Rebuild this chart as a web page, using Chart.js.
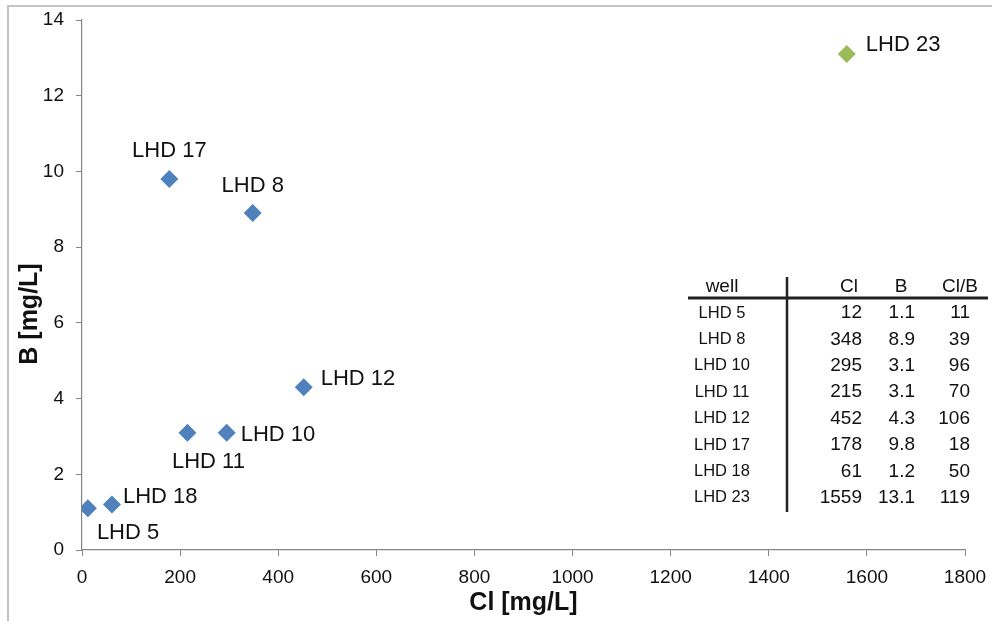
<!DOCTYPE html>
<html>
<head>
<meta charset="utf-8">
<script src="https://cdn.jsdelivr.net/npm/chart.js@4.4.0/dist/chart.umd.min.js"></script>
<style>
  html, body { margin: 0; padding: 0; background: #fff; }
  #wrap { width: 992px; height: 621px; position: relative; }
</style>
</head>
<body>
<div id="wrap"><canvas id="c" width="992" height="621"></canvas></div>
<script>
// ---- data ----
const wells = ['LHD 5', 'LHD 8', 'LHD 10', 'LHD 11', 'LHD 12', 'LHD 17', 'LHD 18', 'LHD 23'];
const clValues = [12, 348, 295, 215, 452, 178, 61, 1559];
const bValues = [1.1, 8.9, 3.1, 3.1, 4.3, 9.8, 1.2, 13.1];
const clbValues = [11, 39, 96, 70, 106, 18, 50, 119];
const tableHeaders = ['well', 'Cl', 'B', 'Cl/B'];
const xTitle = 'Cl [mg/L]';
const yTitle = 'B [mg/L]';

// ---- style ----
const FONT = "'Liberation Sans', Arial, Helvetica, sans-serif";
const BLUE = '#4F81BD';
const GREEN = '#9BBB59';
const AXIS = '#868686';
const TEXT = '#111';
// label offsets relative to each point (px) and alignment
const labelPlacement = {
  'LHD 5':  { dx: 9,  dy: 25, align: 'left' },
  'LHD 8':  { dx: 0,  dy: -27, align: 'center' },
  'LHD 10': { dx: 14, dy: 2,  align: 'left' },
  'LHD 11': { dx: 21, dy: 29, align: 'center' },
  'LHD 12': { dx: 17, dy: -8, align: 'left' },
  'LHD 17': { dx: 0,  dy: -28, align: 'center' },
  'LHD 18': { dx: 11, dy: -8, align: 'left' },
  'LHD 23': { dx: 19, dy: -9, align: 'left' }
};

const points = wells.map((w, i) => ({ x: clValues[i], y: bValues[i], name: w }));

const framePlugin = {
  id: 'frame',
  beforeDraw(chart) {
    const ctx = chart.ctx;
    ctx.save();
    ctx.strokeStyle = '#c4c4c4';
    ctx.lineWidth = 2;
    ctx.beginPath();
    ctx.moveTo(8, 621);
    ctx.lineTo(8, 6);
    ctx.lineTo(992, 6);
    ctx.stroke();
    ctx.restore();
  }
};

const labelsPlugin = {
  id: 'pointLabels',
  afterDatasetsDraw(chart) {
    const ctx = chart.ctx;
    const meta = chart.getDatasetMeta(0);
    ctx.save();
    ctx.font = '22px ' + FONT;
    ctx.fillStyle = TEXT;
    ctx.textBaseline = 'middle';
    meta.data.forEach((el, i) => {
      const p = labelPlacement[wells[i]];
      ctx.textAlign = p.align;
      ctx.fillText(wells[i], el.x + p.dx, el.y + p.dy);
    });
    ctx.restore();
  }
};

const yTitlePlugin = {
  id: 'yTitle',
  afterDraw(chart) {
    const ctx = chart.ctx;
    const a = chart.chartArea;
    ctx.save();
    ctx.translate(30, (a.top + a.bottom) / 2 + 29);
    ctx.rotate(-Math.PI / 2);
    ctx.font = 'bold 25px ' + FONT;
    ctx.fillStyle = TEXT;
    ctx.textAlign = 'center';
    ctx.textBaseline = 'middle';
    ctx.fillText(yTitle, 0, 0);
    ctx.restore();
  }
};

const tablePlugin = {
  id: 'table',
  afterDraw(chart) {
    const ctx = chart.ctx;
    ctx.save();
    ctx.fillStyle = TEXT;
    ctx.textBaseline = 'middle';
    // header
    ctx.font = '19px ' + FONT;
    const hy = 287;
    const headerPos = [[722, 'center'], [858, 'right'], [901, 'center'], [978, 'right']];
    tableHeaders.forEach((h, j) => {
      ctx.textAlign = headerPos[j][1];
      ctx.fillText(h, headerPos[j][0], hy);
    });
    // rows
    const rowY0 = 313, rowH = 26.4;
    wells.forEach((w, i) => {
      const y = rowY0 + i * rowH;
      ctx.font = '16.5px ' + FONT;
      ctx.textAlign = 'center';
      ctx.fillText(w, 722, y);
      ctx.font = '19px ' + FONT;
      ctx.textAlign = 'right';
      ctx.fillText(String(clValues[i]), 862, y);
      ctx.fillText(bValues[i].toFixed(1), 915, y);
      ctx.fillText(String(clbValues[i]), 970, y);
    });
    // lines
    ctx.strokeStyle = '#222';
    ctx.lineWidth = 3;
    ctx.beginPath();
    ctx.moveTo(688, 298);
    ctx.lineTo(988, 298);
    ctx.stroke();
    ctx.lineWidth = 2.5;
    ctx.beginPath();
    ctx.moveTo(787, 277);
    ctx.lineTo(787, 512);
    ctx.stroke();
    ctx.restore();
  }
};

function zeroPad(scale) {
  scale.paddingLeft = 0; scale.paddingRight = 0;
  scale.paddingTop = 0; scale.paddingBottom = 0;
}

new Chart(document.getElementById('c'), {
  type: 'scatter',
  data: {
    datasets: [{
      data: points,
      pointStyle: 'rectRot',
      pointRadius: 9,
      pointHoverRadius: 9,
      pointBorderWidth: 0,
      backgroundColor: ctx => (points[ctx.dataIndex] && points[ctx.dataIndex].name === 'LHD 23') ? GREEN : BLUE,
      borderColor: ctx => (points[ctx.dataIndex] && points[ctx.dataIndex].name === 'LHD 23') ? GREEN : BLUE
    }]
  },
  options: {
    responsive: false,
    animation: false,
    layout: { padding: { left: 0, right: 27, top: 20, bottom: 0 } },
    plugins: {
      legend: { display: false },
      tooltip: { enabled: false },
      title: { display: false }
    },
    scales: {
      x: {
        type: 'linear',
        min: 0, max: 1800,
        ticks: { stepSize: 200, color: TEXT, font: { size: 19, family: FONT }, padding: 10, maxRotation: 0, callback: v => String(v) },
        grid: { display: true, drawOnChartArea: false, drawTicks: true, tickLength: 6, color: AXIS, lineWidth: 1 },
        border: { display: true, color: AXIS, width: 1.2 },
        title: { display: true, text: xTitle, color: TEXT, font: { size: 25, weight: 'bold', family: FONT }, padding: { top: 0, bottom: 3 } },
        afterFit(scale) { scale.height = 71; zeroPad(scale); }
      },
      y: {
        type: 'linear',
        min: 0, max: 14,
        ticks: { stepSize: 2, color: TEXT, font: { size: 19, family: FONT }, padding: 12, callback: v => String(v) },
        grid: { display: true, drawOnChartArea: false, drawTicks: true, tickLength: 6, color: AXIS, lineWidth: 1 },
        border: { display: true, color: AXIS, width: 1.2 },
        afterFit(scale) { scale.width = 82; zeroPad(scale); }
      }
    }
  },
  plugins: [framePlugin, labelsPlugin, yTitlePlugin, tablePlugin]
});
</script>
</body>
</html>
